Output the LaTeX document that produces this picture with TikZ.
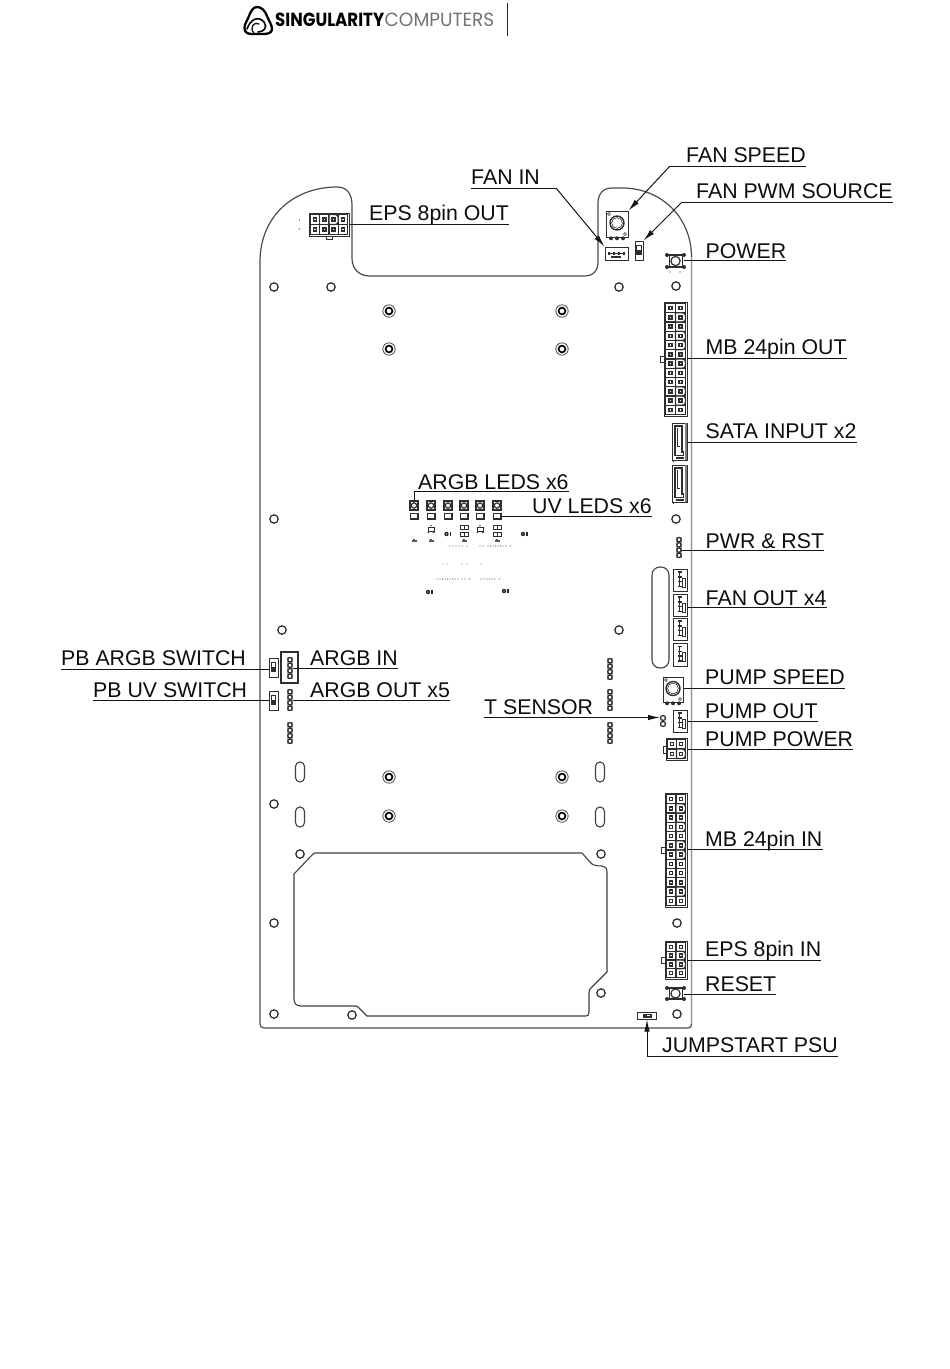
\documentclass[tikz,border=0pt]{standalone}
\usepackage{fontspec}
\setmainfont{Liberation Sans}
\newfontfamily\logofont{Poppins}
\usetikzlibrary{arrows.meta}
\definecolor{inkc}{gray}{0.05}
\definecolor{partc}{gray}{0.18}
\definecolor{leadc}{gray}{0.08}
\tikzset{
  lab/.style={inner sep=0pt,text depth=3pt,text height=16pt,font=\fontsize{21.3}{24}\selectfont,text=inkc},
  labl/.style={lab,anchor=south west},
  lead/.style={draw=leadc,line width=1pt},
  arrowlead/.style={lead,-{Latex[length=12pt,width=5.5pt]}},
  board/.style={draw=black!75,line width=1.1pt,fill=none},
  boardedge/.style={draw=black!70,line width=1.2pt},
  box/.style={draw=partc,line width=1pt,fill=white,inner sep=0pt},
  part/.style={draw=partc,line width=0.9pt},
  hole/.style={draw=black!85,line width=1.2pt,fill=white},
}
\newcommand\devbox[5]{%
  \pgfmathsetmacro\bw{#4-#2}\pgfmathsetmacro\bh{#5-#3}%
  \pgfmathsetmacro\bx{(#2+#4)/2}\pgfmathsetmacro\by{(#3+#5)/2}%
  \node[box,minimum width=\bw pt,minimum height=\bh pt] (#1) at (\bx,\by) {};}
\newcommand\pingrid[7]{%
  \pgfmathsetmacro\cw{(#3-#1-3)/#5}\pgfmathsetmacro\ch{(#4-#2-3)/#6}%
  \pgfmathsetmacro\xa{#1+1.5}\pgfmathsetmacro\ya{#2+1.5}%
  \pgfmathtruncatemacro\nc{#5-1}\pgfmathtruncatemacro\nr{#6-1}%
  \foreach \c in {0,...,\nc}{\foreach \r in {0,...,\nr}{%
    \draw[part,line width=1.1pt,fill=white] ({\xa+\c*\cw},{\ya+\r*\ch}) rectangle ++(\cw,\ch);
  }}%
  \foreach \c/\r in {#7}{%
    \draw[part,line width=1.1pt,fill=white] ({\xa+\c*\cw},{\ya+\r*\ch}) [rounded corners=3.2pt] -- ++(\cw,0) -- ++(0,\ch) [sharp corners] -- ++(-\cw,0) -- cycle;
  }%
  \foreach \c in {0,...,\nc}{\foreach \r in {0,...,\nr}{%
    \fill[partc] ({\xa+(\c+0.5)*\cw-2.2},{\ya+(\r+0.5)*\ch-2.2}) rectangle ++(4.4,4.4);
    \fill[white] ({\xa+(\c+0.5)*\cw-0.8},{\ya+(\r+0.5)*\ch-0.8}) rectangle ++(1.6,1.6);
  }}}
% vertical header of small round pins in a grey strip
\newcommand\hdr[3]{%
  \fill[black!35] ({#1-3},#2) rectangle ({#1+3},#3);
  \foreach \k in {0,...,3}{\draw[partc,line width=1.3pt,fill=white] (#1,{#2+(#3-#2)*(\k+0.5)/4}) circle (2.2pt);}}
% fan-type connector box
\newcommand\fanbox[5]{\devbox{#1}{#2}{#3}{#4}{#5}%
  \pgfmathsetmacro\mx{(#2+#4)/2}\pgfmathsetmacro\my{(#3+#5)/2}%
  \foreach \k in {-8,-3.2,1.6,6.4}{\fill[partc] ({\mx-2.2},{\my+\k-0.8}) rectangle ++(4.4,1.6);}
  \draw[part] ({\mx-1},{\my-8}) -- ({\mx-1},{\my+7});
  \draw[part] ({\mx+2.2},{\my-2}) rectangle ({\mx+5},{\my+7});}
\newcommand\pot[5]{\devbox{#1}{#2}{#3}{#4}{#5}%
  \pgfmathsetmacro\mx{(#2+#4)/2}\pgfmathsetmacro\my{(#3+#5-2)/2}%
  \draw[part,line width=1.4pt,fill=white] (\mx,\my) circle (7pt);
  \draw[part,line width=0.6pt] (\mx,\my) circle (5.4pt);
  \draw[part,line width=0.6pt] ({#2+3},{#3+3}) circle (1.5pt) ({#4-3},{#5-3}) circle (1.5pt);
  \foreach \k in {-6,0,6}{\fill[partc] ({\mx+\k},{#5+1.3}) circle (2pt);}}
\newcommand\tact[5]{%
  \pgfmathsetmacro\bw{#4-#2}\pgfmathsetmacro\bh{#5-#3}%
  \pgfmathsetmacro\bx{(#2+#4)/2}\pgfmathsetmacro\by{(#3+#5)/2}%
  \node[inner sep=0pt,minimum width=\bw pt,minimum height=\bh pt] (#1) at (\bx,\by) {};
  \draw[part] ({\bx-6.5},{#3+1}) rectangle ({\bx+6.5},{#5-1});
  \draw[part,line width=1.2pt] (\bx,\by) circle (4.6pt);
  \draw[partc,line width=2.2pt] (#2,{#3+1}) -- (#4,{#3+1}) (#2,{#5-1}) -- (#4,{#5-1});
  \foreach \sx in {#2,#4}{\foreach \sy in {#3,#5}{\fill[partc] (\sx,{\sy+(#5>\sy?1:-1)}) circle (2pt);}}}
\newcommand\vswitch[5]{\devbox{#1}{#2}{#3}{#4}{#5}%
  \pgfmathsetmacro\mx{(#2+#4)/2}\pgfmathsetmacro\my{(#3+#5)/2}%
  \draw[part] ({\mx-2.2},{\my-5}) rectangle ({\mx+2.2},{\my+4});
  \fill[partc] ({\mx-2.2},{\my-0.5}) rectangle ({\mx+2.2},{\my+4});}
\begin{document}
\begin{tikzpicture}[x=1pt,y=-1pt]
\useasboundingbox[fill=white] (0,0) rectangle (950,1369);

% logo
\draw[black,line width=2.3pt,line join=round] (257,7) .. controls (262,7) and (265,11) .. (267,16) .. controls (269,21) and (272,25) .. (272,29) .. controls (272,33) and (268,34) .. (263,34) -- (252,34) .. controls (247,34) and (244.5,32) .. (244.5,28) .. controls (244.5,24) and (247,21) .. (249,16) .. controls (251,11) and (253,7) .. (257,7) -- cycle;
\draw[black,line width=1.6pt,line cap=round] (247,29) .. controls (250,20) and (258,15) .. (264,22) .. controls (268,27) and (264,32) .. (258,32);
\draw[black,line width=1.2pt,line cap=round] (254,33) .. controls (249,28) and (254,21) .. (259,24);
\node[inner sep=0pt,anchor=west,text=black] (logoa) at (275,20) {\resizebox{109pt}{13.5pt}{\logofont\bfseries SINGULARITY}};
\node[inner sep=0pt,anchor=west,text=black!55] (logob) at (384.5,20) {\resizebox{109.5pt}{13.5pt}{\logofont COMPUTERS}};
\coordinate (bart) at (507.5,3);
\coordinate (barb) at (507.5,36);
\draw[black!85,line width=1pt] (bart) -- (barb);

% board outline
\draw[boardedge] (264,1028) -- (688,1028) .. controls (690.5,1028) and (691.5,1026.5) .. (691.5,1024) -- (691.5,257)
  .. controls (691.5,218) and (662,188) .. (622,188) -- (612,188)
  .. controls (603,188) and (598,194) .. (598,203) -- (598,262)
  .. controls (598,271) and (593,276) .. (584,276) -- (370,276)
  .. controls (359,276) and (352,269) .. (352,258) -- (352,205)
  .. controls (352,194) and (347,187) .. (337,187)
  .. controls (295,187) and (260,215) .. (260,262) -- (260,1024)
  .. controls (260,1026.5) and (261.5,1028) .. (264,1028);
\draw[black!42,line width=1.6pt] (691.5,1024) -- (691.5,257);

% large cut-out
\draw[board] (315,853) -- (582,853) -- (590,862) .. controls (592,865) and (596,866) .. (602,866) .. controls (605,866) and (607,868) .. (607,872) -- (607,972)
  -- (591,988) .. controls (590,989) and (589,990) .. (589,992) -- (589,1012) .. controls (589,1015) and (588,1016) .. (586,1016)
  -- (367,1016) -- (358,1007) .. controls (357,1006) and (357,1006) .. (356,1006) -- (301,1006)
  .. controls (296,1006) and (294,1003) .. (294,999) -- (294,874) -- (313,854) -- cycle;

% side oval
\draw[board,rounded corners=8pt] (652,567) rectangle (669,668);

% holes
\foreach \hx/\hy in {274/287,331/287,619/287,676/286,274/519,676/519,282/630,619/630,274/804,300/854,601/854,274/923,677/923,601/993,274/1014,352/1015,677/1014}
  {\draw[hole] (\hx,\hy) circle (4.2pt);}
% stand-offs
\foreach \hx/\hy in {389/311,562/311,389/349,562/349,389/777,562/777,389/816,562/816}{
  \draw[black!70,line width=0.8pt] (\hx,\hy) circle (6.2pt);
  \draw[black,line width=1.7pt] (\hx,\hy) circle (3.4pt);}
% slots
\foreach \hx/\hy in {300/772,600/772,300/817,600/817}
  {\draw[board,rounded corners=4.4pt] ({\hx-4.5},{\hy-10}) rectangle ({\hx+4.5},{\hy+10});}

% EPS 8pin OUT
\devbox{epsout}{309}{213}{349}{236}
\pingrid{309}{213}{349}{236}{4}{2}{2/0}
\draw[part] (326,236) rectangle (332,239);
\fill[partc] (299.5,220) circle (0.6pt) (299.5,229) circle (0.6pt);
\node[labl] (lepsout) at (369,224) {EPS 8pin OUT};
\draw[lead] (epsout.east |- lepsout.south) -- (lepsout.south east);

% FAN SPEED pot
\pot{fanspeed}{606}{211}{628}{237}
\node[labl] (lfanspeed) at (686,166) {FAN SPEED};
\coordinate (efanspeed) at (670,166);
\draw[lead] (lfanspeed.south east) -- (efanspeed);
\draw[arrowlead] (efanspeed) -- (fanspeed.north east);

% FAN IN
\devbox{fanin}{605}{247}{628}{260}
\foreach \k in {-8,-3,2,7}{\fill[partc] ({616.5+\k-0.8},251.5) rectangle ++(1.8,3);}
\draw[part,line width=1pt] (608,253) -- (625,253);
\fill[partc] (611,255.5) rectangle (621,257.5);
\node[lab,anchor=south west] (lfanin) at (471,188) {FAN IN};
\coordinate (efanin) at (556,188);
\draw[lead] (lfanin.south west) -- (efanin);
\draw[arrowlead] (efanin) -- (fanin.north west);

% FAN PWM SOURCE
\vswitch{pwm}{635}{241}{643}{260}
\node[labl] (lpwm) at (696,202) {FAN PWM SOURCE};
\coordinate (epwm) at (682,202);
\draw[lead] (lpwm.south east) -- (epwm);
\draw[arrowlead] (epwm) -- (pwm.north east);

% POWER
\tact{power}{667}{254}{684}{268}
\fill[partc] (670,272) circle (0.6pt) (680,272) circle (0.6pt);
\node[labl,text depth=2pt] (lpower) at (705.5,260.5) {POWER};
\draw[lead] (power.east |- lpower.south) -- (lpower.south east);

% MB 24pin OUT
\devbox{mbout}{664}{302}{687}{416}
\pingrid{664}{302}{687}{416}{2}{12}{1/1,1/3,1/4,1/6,1/9,1/10}
\draw[part] (660.5,356) rectangle (664,362);
\node[labl] (lmbout) at (705.5,358) {MB 24pin OUT};
\draw[lead] (mbout.east |- lmbout.south) -- (lmbout.south east);

% SATA
\foreach \nm/\ya/\yb in {sataa/423/460,satab/465/502}{
  \devbox{\nm}{672}{\ya}{687}{\yb}
  \draw[part,line width=1.2pt] (675,{\ya+3}) -- (682,{\ya+3}) -- (682,{\yb-8}) -- (683.5,{\yb-8}) -- (683.5,{\yb-4.5}) -- (675,{\yb-4.5}) -- cycle;
  \draw[part] (677.5,{\ya+5}) -- (677.5,{\ya+23}) -- (680,{\ya+23});
  \fill[partc] (676,{\yb-3}) rectangle (684,{\yb-1.2});
  \draw[black!50,line width=1.4pt] (686,\ya) -- (686,\yb);
  \fill[partc] (672.5,{\yb+0.5}) rectangle (673.5,{\yb+1.5});
}
\node[labl] (lsata) at (705.5,442) {SATA INPUT x2};
\draw[lead] (sataa.east |- lsata.south) -- (lsata.south east);

% PWR & RST
\hdr{679}{537}{558}
\coordinate (pwrrst) at (682,550);
\node[labl,text depth=1pt] (lpwrrst) at (705.5,550) {PWR \& RST};
\draw[lead] (pwrrst) -- (lpwrrst.south east);

% FAN OUT
\fanbox{fana}{673}{569}{687}{591}
\fanbox{fanb}{673}{594}{687}{616}
\fanbox{fanc}{673}{618}{687}{640}
\fanbox{fand}{673}{643}{687}{666}
\node[labl,text depth=1pt] (lfanout) at (705.5,607) {FAN OUT x4};
\draw[lead] (fanb.east |- lfanout.south) -- (lfanout.south east);

% PUMP SPEED
\pot{pumpspeed}{663}{677}{683}{702}
\node[labl,text depth=4pt] (lpumpspeed) at (705,688.5) {PUMP SPEED};
\draw[lead] (pumpspeed.east |- lpumpspeed.south) -- (lpumpspeed.south east);

% PUMP OUT
\fanbox{pumpout}{673}{710}{687}{732}
\node[labl,text depth=2pt] (lpumpout) at (705,721) {PUMP OUT};
\draw[lead] (pumpout.east |- lpumpout.south) -- (lpumpout.south east);

% T SENSOR
\draw[partc,line width=1.3pt,fill=white] (663,718) circle (2.5pt) (663,724) circle (2.5pt);
\coordinate (tsens) at (660,717.5);
\node[labl] (ltsens) at (484,717.5) {T SENSOR};
\draw[arrowlead] (ltsens.south west) -- (tsens);

% PUMP POWER
\devbox{pumppower}{666}{738}{687}{760}
\pingrid{666}{738}{687}{760}{2}{2}{1/1}
\draw[part] (663,746) rectangle (666,753);
\node[labl,text depth=2pt] (lpumppower) at (705,749) {PUMP POWER};
\draw[lead] (pumppower.east |- lpumppower.south) -- (lpumppower.south east);

% MB 24pin IN
\devbox{mbin}{665}{793}{687}{907}
\pingrid{665}{793}{687}{907}{2}{12}{1/1,1/3,1/5,1/6,1/10}
\draw[part] (661.5,847) rectangle (665,853);
\node[labl,text depth=2pt] (lmbin) at (705,849) {MB 24pin IN};
\draw[lead] (mbin.east |- lmbin.south) -- (lmbin.south east);

% EPS 8pin IN
\devbox{epsin}{665}{941}{687}{979}
\pingrid{665}{941}{687}{979}{2}{4}{1/1,1/2}
\draw[part] (661.5,957) rectangle (665,963);
\node[labl,text depth=4pt] (lepsin) at (705,960.5) {EPS 8pin IN};
\draw[lead] (epsin.east |- lepsin.south) -- (lepsin.south east);

% RESET
\tact{reset}{667}{987}{684}{1000}
\node[labl] (lreset) at (705,994.5) {RESET};
\draw[lead] (reset.east |- lreset.south) -- (lreset.south east);

% JUMPSTART PSU
\devbox{jump}{637}{1012}{656}{1019}
\draw[part,fill=partc] (643,1014) rectangle (651,1017);
\fill[white] (647,1014.8) rectangle (650,1016.2);
\node[labl] (ljump) at (662,1056) {JUMPSTART PSU};
\coordinate (ejump) at (647,1056);
\draw[lead] (ljump.south east) -- (ejump);
\draw[arrowlead] (ejump) -- (jump.south -| ejump);

% LEDs
\foreach \lx in {414,431,448,464,480,497}{
  \draw[part,line width=1.2pt] ({\lx-4},501) rectangle ({\lx+4},510);
  \draw[part,line width=1.2pt] (\lx,505.5) circle (2.7pt);
  \draw[partc,line width=1.6pt,fill=white] ({\lx-3.7},513.5) rectangle ({\lx+3.7},519);
}
\coordinate (argbled) at (414,501);
\coordinate (eargb) at (414,491);
\node[labl,text depth=1pt] (largbled) at (418,491) {ARGB LEDS x6};
\draw[lead] (largbled.south east) -- (eargb) -- (argbled);
\coordinate (uvled) at (501,516.5);
\node[labl] (luvled) at (532,516.5) {UV LEDS x6};
\draw[lead] (uvled) -- (luvled.south east);
% small SMD parts
\foreach \lx in {431,480}{
  \draw[partc,line width=1pt] ({\lx-3},527) rectangle ({\lx+3},531);
  \fill[partc] ({\lx-3.5},532) rectangle ++(1.5,1.2) ({\lx+2},532) rectangle ++(1.5,1.2) ({\lx-0.7},525) rectangle ++(1.4,1.2);
}
\foreach \lx in {464,497}{
  \foreach \ly in {525,532}{\draw[partc,line width=0.8pt] ({\lx-4},\ly) rectangle ({\lx+4},{\ly+4});
  \draw[partc,line width=0.6pt] (\lx,\ly) -- (\lx,{\ly+4});}
}
\foreach \lx in {414,431,464,497}{
  \fill[black!65] ({\lx-2.5},540) rectangle ({\lx+2.5},542.2);
  \fill[black!65] ({\lx-1},538.5) rectangle ({\lx+1},540);
}
\foreach \bx/\by in {446.5/534,523/534,428/592,504/591}{
  \fill[black!85] (\bx,\by) circle (2.2pt);
  \fill[white] (\bx,\by) circle (0.7pt);
  \fill[black!85] ({\bx+3},{\by-2.5}) rectangle ++(1.8,4.5);
}
\foreach \dx in {450,453,456,459,462,467,480,483,488,490.5,493,495.5,498,500.5,503,506,510.5}
  {\fill[black!65] (\dx,546) circle (0.55pt);}
\foreach \dx in {443,447,462,467,481}
  {\fill[black!50] (\dx,564) circle (0.55pt);}
\foreach \dx in {437,440,442.5,445,447.5,450,452.5,455,458,462,465,469.5,481,484,487,489.5,492,495,499.5}
  {\fill[black!65] (\dx,579) circle (0.55pt);}

% left switches and headers
\vswitch{pbargb}{269}{658}{278}{677}
\node[labl] (lpbargb) at (61,669) {PB ARGB SWITCH};
\draw[lead] (lpbargb.south west) -- (pbargb.west |- lpbargb.south);
\vswitch{pbuv}{269}{691}{278}{710}
\node[labl] (lpbuv) at (93,700.5) {PB UV SWITCH};
\draw[lead] (lpbuv.south west) -- (pbuv.west |- lpbuv.south);
\draw[part,line width=1.1pt] (281,652) rectangle (298,683);
\hdr{290}{657}{679}
\coordinate (argbin) at (293,668);
\node[labl,text depth=2pt] (largbin) at (310,668) {ARGB IN};
\draw[lead] (argbin) -- (largbin.south east);
\hdr{290}{689}{711}
\hdr{290}{722}{744}
\coordinate (argbout) at (293,700.5);
\node[labl] (largbout) at (310,700.5) {ARGB OUT x5};
\draw[lead] (argbout) -- (largbout.south east);
\hdr{610}{658}{680}
\hdr{610}{689}{711}
\hdr{610}{722}{744}
\end{tikzpicture}
\end{document}
